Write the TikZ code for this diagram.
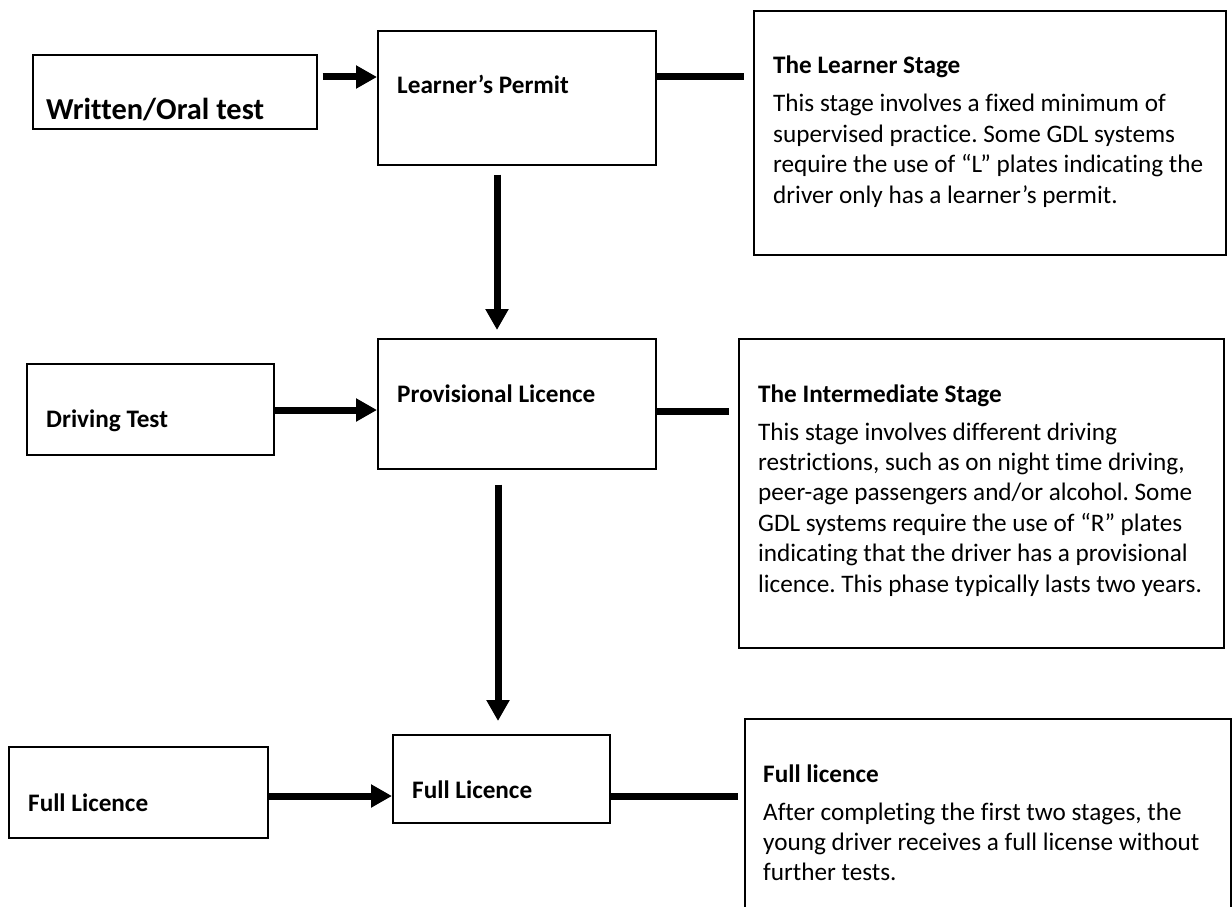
\documentclass[tikz,border=0pt]{standalone}
\usepackage{fontspec}
\setmainfont{Carlito}[Ligatures=NoCommon]
\usetikzlibrary{arrows.meta,calc}
\frenchspacing
\begin{document}
\begin{tikzpicture}[x=1pt,y=-1pt,
  box/.style={draw, line width=1.6pt, inner sep=0pt, anchor=north west},
  conn/.style={line width=7pt},
  arr/.style={line width=7pt, -{Triangle[length=21pt,width=22pt]}},
  lbl/.style={anchor=base west, inner sep=0pt, font=\fontsize{25.2}{30}\selectfont\bfseries},
  bigl/.style={anchor=base west, inner sep=0pt, font=\fontsize{30.4}{36}\selectfont\bfseries},
  body/.style={anchor=base west, inner sep=0pt, font=\fontsize{25.2}{30.4}\selectfont}]
\useasboundingbox (0,0) rectangle (1232,907);
% boxes
\node[box, minimum width=284pt, minimum height=74pt] (W) at (32,54) {};
\node[box, minimum width=278pt, minimum height=134pt] (L) at (377,30) {};
\node[box, minimum width=472pt, minimum height=244pt] (LS) at (753,10) {};
\node[box, minimum width=247pt, minimum height=91pt] (D) at (26,363) {};
\node[box, minimum width=278pt, minimum height=130pt] (P) at (377,338) {};
\node[box, minimum width=485pt, minimum height=309pt] (IS) at (738,338) {};
\node[box, minimum width=259pt, minimum height=91pt] (FL) at (8,746) {};
\node[box, minimum width=217pt, minimum height=88pt] (F) at (392,734) {};
\node[box, minimum width=486pt, minimum height=250pt] (FS) at (744,718) {};
% texts
\node[bigl] (Wt) at (46,119) {Written/Oral test};
\node[lbl] (Lt) at (397,93) {Learner’s Permit};
\node[lbl] (Dt) at (46,427) {Driving Test};
\node[lbl] (Pt) at (397,402) {Provisional Licence};
\node[lbl] (FLt) at (28,811) {Full Licence};
\node[lbl] (Ft) at (412,798) {Full Licence};
\node[body] (LSt) at (773,74) {\parbox[t]{450pt}{\raggedright\textbf{The Learner Stage}\\[7.6pt]
This stage involves a fixed minimum of\\
supervised practice. Some GDL systems\\
require the use of “L” plates indicating the\\
driver only has a learner’s permit.}};
\node[body] (ISt) at (758,402) {\parbox[t]{460pt}{\raggedright\textbf{The Intermediate Stage}\\[7.6pt]
This stage involves different driving\\
restrictions, such as on night time driving,\\
peer-age passengers and/or alcohol. Some\\
GDL systems require the use of “R” plates\\
indicating that the driver has a provisional\\
licence. This phase typically lasts two years.}};
\node[body] (FSt) at (763,782) {\parbox[t]{460pt}{\raggedright\textbf{Full licence}\\[7.6pt]
After completing the first two stages, the\\
young driver receives a full license without\\
further tests.}};
% connectors
\coordinate (a1) at ($(W.east)+(5,0)$);
\draw[arr] (a1 |- 0,77) -- (L.west |- 0,77);
\coordinate (c1) at ($(LS.west)+(-9,0)$);
\draw[conn] (L.east |- 0,77) -- (c1 |- 0,77);
\draw[arr] ($(L.south west)+(120,9)$) -- ($(P.north west)+(120,-8)$);
\draw[arr] (D.east |- 0,410) -- (P.west |- 0,410);
\coordinate (c2) at ($(IS.west)+(-9,0)$);
\draw[conn] (P.east |- 0,411) -- (c2 |- 0,411);
\draw[arr] ($(P.south west)+(121,15)$) -- ($(F.north west)+(106,-13)$);
\draw[arr] (FL.east |- 0,796) -- (F.west |- 0,796);
\coordinate (c3) at ($(FS.west)+(-6,0)$);
\draw[conn] (F.east |- 0,796) -- (c3 |- 0,796);
\end{tikzpicture}
\end{document}
